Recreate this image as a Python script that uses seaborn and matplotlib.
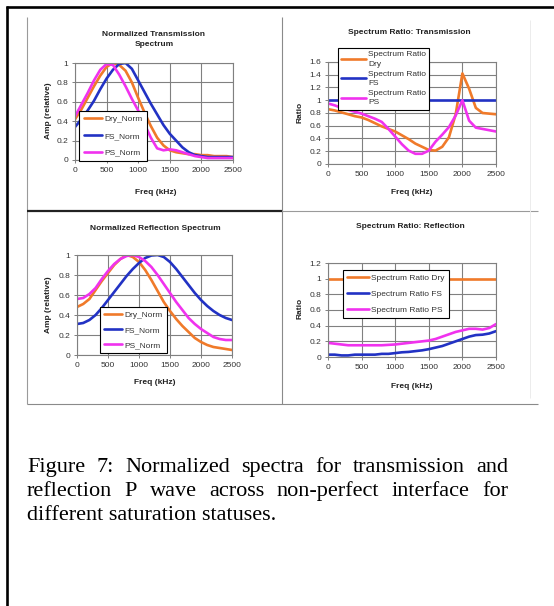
import matplotlib
matplotlib.use("Agg")
import matplotlib.pyplot as plt
from matplotlib.lines import Line2D
from matplotlib.ticker import MultipleLocator, FuncFormatter
import seaborn as sns

# ---------------- data ----------------
freq = [0, 100, 200, 300, 400, 500, 600, 700, 800, 900, 1000, 1100, 1200,
        1300, 1400, 1500, 1600, 1700, 1800, 1900, 2000, 2100, 2200, 2300, 2400, 2500]

# Normalized transmission spectrum
trans_dry = [0.42, 0.52, 0.64, 0.76, 0.87, 0.96, 1.00, 0.98, 0.92, 0.80, 0.64, 0.49, 0.35,
             0.23, 0.15, 0.10, 0.08, 0.07, 0.06, 0.06, 0.05, 0.05, 0.04, 0.04, 0.04, 0.03]
trans_fs = [0.34, 0.42, 0.51, 0.61, 0.73, 0.84, 0.93, 0.99, 1.00, 0.94, 0.82, 0.70, 0.58,
            0.47, 0.36, 0.27, 0.20, 0.13, 0.08, 0.05, 0.04, 0.03, 0.03, 0.03, 0.03, 0.03]
trans_ps = [0.45, 0.57, 0.69, 0.82, 0.93, 0.99, 0.98, 0.88, 0.76, 0.63, 0.51, 0.37, 0.23,
            0.12, 0.10, 0.11, 0.10, 0.08, 0.06, 0.04, 0.03, 0.02, 0.02, 0.02, 0.02, 0.02]

# Spectrum ratio: transmission
tratio_dry = [0.86, 0.84, 0.81, 0.78, 0.75, 0.73, 0.69, 0.64, 0.59, 0.55, 0.51, 0.45, 0.39,
              0.32, 0.27, 0.22, 0.21, 0.27, 0.42, 0.78, 1.42, 1.18, 0.88, 0.80, 0.79, 0.78]
tratio_fs = [1.0] * 26
tratio_ps = [0.95, 0.92, 0.88, 0.85, 0.82, 0.79, 0.75, 0.71, 0.66, 0.55, 0.43, 0.31, 0.21,
             0.16, 0.16, 0.21, 0.35, 0.46, 0.58, 0.76, 1.00, 0.68, 0.57, 0.55, 0.53, 0.51]

# Normalized reflection spectrum
refl_dry = [0.48, 0.51, 0.56, 0.65, 0.74, 0.82, 0.90, 0.96, 1.00, 0.98, 0.93, 0.85, 0.75,
            0.64, 0.53, 0.44, 0.36, 0.29, 0.23, 0.17, 0.13, 0.10, 0.08, 0.07, 0.06, 0.05]
refl_fs = [0.31, 0.32, 0.35, 0.40, 0.47, 0.55, 0.63, 0.71, 0.79, 0.86, 0.92, 0.97, 0.995,
           1.00, 0.98, 0.93, 0.86, 0.78, 0.70, 0.62, 0.55, 0.49, 0.44, 0.40, 0.37, 0.35]
refl_ps = [0.56, 0.57, 0.61, 0.67, 0.76, 0.84, 0.91, 0.96, 0.99, 1.00, 0.98, 0.94, 0.88,
           0.80, 0.71, 0.62, 0.53, 0.45, 0.37, 0.31, 0.26, 0.22, 0.18, 0.16, 0.15, 0.15]

# Spectrum ratio: reflection
rratio_dry = [1.0] * 26
rratio_fs = [0.03, 0.03, 0.02, 0.02, 0.03, 0.03, 0.03, 0.03, 0.04, 0.04, 0.05, 0.06, 0.065,
             0.075, 0.085, 0.10, 0.12, 0.14, 0.17, 0.20, 0.23, 0.26, 0.28, 0.285, 0.30, 0.33]
rratio_ps = [0.18, 0.17, 0.16, 0.15, 0.15, 0.15, 0.15, 0.15, 0.15, 0.155, 0.16, 0.17, 0.18,
             0.19, 0.20, 0.21, 0.23, 0.26, 0.29, 0.32, 0.34, 0.36, 0.36, 0.35, 0.37, 0.42]

norm_labels = ["Dry_Norm", "FS_Norm", "PS_Norm"]
tratio_labels = ["Spectrum Ratio\nDry", "Spectrum Ratio\nFS", "Spectrum Ratio\nPS"]
rratio_labels = ["Spectrum Ratio Dry", "Spectrum Ratio FS", "Spectrum Ratio PS"]

caption_lines = ["Figure 7: Normalized spectra for transmission and",
                 "reflection P wave across non-perfect interface for",
                 "different saturation statuses."]

# ---------------- style ----------------
ORANGE = "#F07A2A"
BLUE = "#2232C4"
MAGENTA = "#F032EE"
GRID = "#808080"

W, H = 554, 606
sns.set_theme(style="white")
plt.rcParams['font.family'] = ['Liberation Sans', 'DejaVu Sans']

fig = plt.figure(figsize=(W / 100, H / 100), dpi=100)
fig.patch.set_facecolor("white")


def fx(px):
    return px / W


def fy(py):
    return 1 - py / H


def add_line(x0, y0, x1, y1, color, lw):
    fig.add_artist(Line2D([fx(x0), fx(x1)], [fy(y0), fy(y1)], transform=fig.transFigure,
                          color=color, linewidth=lw, solid_capstyle='butt'))


def panel(box, series, labels, ymax, ystep, title, title_xy, ylabel, ylabel_xy, xlabel_xy,
          legend_xy, leg_kw, leg_linespacing=1.2):
    x0, y0, x1, y1 = box
    ax = fig.add_axes([fx(x0), fy(y1), (x1 - x0) / W, (y1 - y0) / H])
    ax.set_facecolor("white")
    for vals, lab, col in zip(series, labels, [ORANGE, BLUE, MAGENTA]):
        sns.lineplot(x=freq, y=vals, ax=ax, color=col, linewidth=1.9, label=lab)
    ax.set_xlim(0, 2500)
    ax.set_ylim(0, ymax)
    ax.xaxis.set_major_locator(MultipleLocator(500))
    ax.yaxis.set_major_locator(MultipleLocator(ystep))
    ax.yaxis.set_major_formatter(FuncFormatter(lambda v, p: f"{v:g}"))
    ax.xaxis.set_major_formatter(FuncFormatter(lambda v, p: f"{v:g}"))
    ax.grid(True, color=GRID, linewidth=0.8)
    ax.set_axisbelow(True)
    ax.tick_params(axis='both', which='major', length=2.5, width=0.7, color=GRID,
                   labelsize=6, labelcolor="#333333", pad=2.5, direction='out',
                   bottom=True, left=True)
    for s in ax.spines.values():
        s.set_color(GRID)
        s.set_linewidth(0.8)
    ax.set_xlabel("Freq (kHz)", fontsize=6, fontweight='bold', color="#222222")
    ax.xaxis.set_label_coords(fx(xlabel_xy[0]), fy(xlabel_xy[1]), transform=fig.transFigure)
    ax.xaxis.label.set_va('center')
    ax.set_ylabel(ylabel, fontsize=6, fontweight='bold', color="#222222")
    ax.yaxis.set_label_coords(fx(ylabel_xy[0]), fy(ylabel_xy[1]), transform=fig.transFigure)
    ax.yaxis.label.set_va('center')
    fig.text(fx(title_xy[0]), fy(title_xy[1]), title, ha='center', va='center',
             fontsize=6, fontweight='bold', color="#222222", linespacing=1.6)
    handles, labs = ax.get_legend_handles_labels()
    leg = ax.legend(handles, labs, loc='upper left',
                    bbox_to_anchor=(fx(legend_xy[0]), fy(legend_xy[1])),
                    bbox_transform=fig.transFigure, borderaxespad=0, frameon=True,
                    fancybox=False, framealpha=1, edgecolor='black', **leg_kw)
    leg.get_frame().set_linewidth(0.8)
    for t in leg.get_texts():
        t.set_color("#333333")
        t.set_linespacing(leg_linespacing)
    return ax


norm_leg = dict(fontsize=6, handlelength=2.2, handletextpad=0.3, labelspacing=1.05,
                borderpad=0.55)

panel((75, 63, 233, 160), [trans_dry, trans_fs, trans_ps], norm_labels, 1.0, 0.2,
      "Normalized Transmission\nSpectrum", (154, 39), "Amp (relative)", (48, 111),
      (156, 192), (79, 111), norm_leg)

panel((328, 62, 496, 164), [tratio_dry, tratio_fs, tratio_ps], tratio_labels, 1.6, 0.2,
      "Spectrum Ratio: Transmission", (409, 33), "Ratio", (300, 112),
      (412, 193), (338, 48),
      dict(fontsize=6, handlelength=3.0, handletextpad=0.2, labelspacing=0.32,
           borderpad=0.4), leg_linespacing=1.5)

panel((77, 255, 232, 355), [refl_dry, refl_fs, refl_ps], norm_labels, 1.0, 0.2,
      "Normalized Reflection Spectrum", (155, 228), "Amp (relative)", (48, 305),
      (155, 383), (100, 307),
      dict(fontsize=6, handlelength=2.2, handletextpad=0.3, labelspacing=0.9,
           borderpad=0.45))

panel((328, 263, 496, 357), [rratio_dry, rratio_fs, rratio_ps], rratio_labels, 1.2, 0.2,
      "Spectrum Ratio: Reflection", (410, 227), "Ratio", (300, 308),
      (412, 387), (343, 270),
      dict(fontsize=6, handlelength=2.6, handletextpad=0.3, labelspacing=1.0,
           borderpad=0.5))

# ---------------- frame lines ----------------
add_line(5.5, 6.5, 554, 6.5, "black", 1.9)      # outer top border
add_line(7, 5.5, 7, 606, "black", 1.9)          # outer left border
add_line(27, 17, 27, 404, "#9a9a9a", 0.8)       # panel block left
add_line(282, 17, 282, 404, "#8a8a8a", 0.8)     # panel divider vertical
add_line(27, 404, 538, 404, "#8a8a8a", 0.8)     # panel block bottom
add_line(27, 211, 282, 211, "#222222", 1.6)     # divider (left half, dark)
add_line(282, 211, 538, 211, "#9a9a9a", 0.8)    # divider (right half)
add_line(530, 20, 530, 398, "#ececec", 0.7)     # faint right edge

# ---------------- caption (justified) ----------------
fig.canvas.draw()
renderer = fig.canvas.get_renderer()
cap_kw = dict(fontsize=16, family=['Liberation Serif', 'DejaVu Serif'], color='black',
              va='baseline', ha='left')
LEFT, RIGHT = 27, 508
baselines = [472, 496, 520]
for i, (line, by) in enumerate(zip(caption_lines, baselines)):
    if i < len(caption_lines) - 1:
        words = line.split()
        texts = [fig.text(0, fy(by), w, **cap_kw) for w in words]
        widths = [t.get_window_extent(renderer).width for t in texts]
        gap = (RIGHT - LEFT - sum(widths)) / (len(words) - 1)
        x = LEFT
        for t, w in zip(texts, widths):
            t.set_x(fx(x))
            x += w + gap
    else:
        fig.text(fx(LEFT), fy(by), line, **cap_kw)

fig.savefig("out.png", dpi=100, facecolor="white")
